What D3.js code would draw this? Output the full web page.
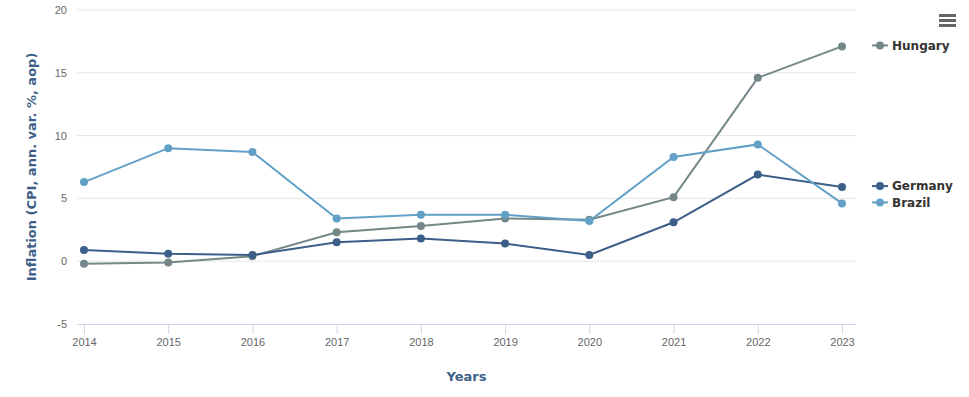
<!DOCTYPE html>
<html>
<head>
<meta charset="utf-8">
<script src="https://cdn.jsdelivr.net/npm/d3@7"></script>
<style>
  body { margin: 0; background: #fff; }
  svg { font-family: "DejaVu Sans", sans-serif; }
</style>
</head>
<body>
<div id="chart"></div>
<script>
// chart data
const years = [2014, 2015, 2016, 2017, 2018, 2019, 2020, 2021, 2022, 2023];
const hungary = [-0.2, -0.1, 0.4, 2.3, 2.8, 3.4, 3.3, 5.1, 14.6, 17.1];
const germany = [0.9, 0.6, 0.5, 1.5, 1.8, 1.4, 0.5, 3.1, 6.9, 5.9];
const brazil = [6.3, 9.0, 8.7, 3.4, 3.7, 3.7, 3.2, 8.3, 9.3, 4.6];
const yTicks = [-5, 0, 5, 10, 15, 20];

const seriesList = [
  { name: "Hungary", values: hungary, color: "#748789" },
  { name: "Germany", values: germany, color: "#3b5f88" },
  { name: "Brazil", values: brazil, color: "#62a0c7" }
];

const svgWidth = 969, svgHeight = 397;
const margin = { top: 10, right: 113, bottom: 73, left: 77 };
const width = svgWidth - margin.left - margin.right;
const height = svgHeight - margin.top - margin.bottom;

const svg = d3.select("#chart").append("svg")
  .attr("width", svgWidth)
  .attr("height", svgHeight);

const chartGroup = svg.append("g")
  .attr("transform", `translate(${margin.left}, ${margin.top})`);

const xScale = d3.scalePoint()
  .domain(years)
  .range([7, width - 14]);

const yScale = d3.scaleLinear()
  .domain([-5, 20])
  .range([height, 0]);

// grid lines
chartGroup.append("g")
  .selectAll("line")
  .data(yTicks.filter(d => d !== -5))
  .join("line")
  .attr("x1", 0).attr("x2", width)
  .attr("y1", d => yScale(d)).attr("y2", d => yScale(d))
  .attr("stroke", "#e6e6e6").attr("stroke-width", 1);

// y axis labels
const yAxis = d3.axisLeft(yScale).tickValues(yTicks).tickSize(0).tickPadding(10)
  .tickFormat(d => String(d));
chartGroup.append("g")
  .call(yAxis)
  .call(g => g.select(".domain").remove())
  .call(g => g.selectAll("text").attr("fill", "#666").style("font-size", "11px"));

// x axis
const xAxis = d3.axisBottom(xScale).tickSize(10).tickPadding(4);
chartGroup.append("g")
  .attr("transform", `translate(0, ${height})`)
  .call(xAxis)
  .call(g => g.select(".domain").attr("d", `M0,0.5H${width}`).attr("stroke", "#ccd6eb"))
  .call(g => g.selectAll(".tick line").attr("stroke", "#ccd6eb"))
  .call(g => g.selectAll("text").attr("fill", "#666").style("font-size", "11px"));

// axis titles
svg.append("text")
  .attr("transform", `translate(36, ${margin.top + height / 2}) rotate(-90)`)
  .attr("text-anchor", "middle")
  .attr("fill", "#3e6089")
  .style("font-size", "13px")
  .style("font-weight", "bold")
  .text("Inflation (CPI, ann. var. %, aop)");

svg.append("text")
  .attr("x", margin.left + width / 2)
  .attr("y", 381)
  .attr("text-anchor", "middle")
  .attr("fill", "#3e6089")
  .style("font-size", "13px")
  .style("font-weight", "bold")
  .text("Years");

// lines and markers
const line = d3.line()
  .x((d, i) => xScale(years[i]))
  .y(d => yScale(d));

seriesList.forEach(s => {
  chartGroup.append("path")
    .datum(s.values)
    .attr("fill", "none")
    .attr("stroke", s.color)
    .attr("stroke-width", 2)
    .attr("d", line);
  chartGroup.append("g")
    .selectAll("circle")
    .data(s.values)
    .join("circle")
    .attr("cx", (d, i) => xScale(years[i]))
    .attr("cy", d => yScale(d))
    .attr("r", 4)
    .attr("fill", s.color);
});

// labels at line ends, pushed apart if they overlap
const labels = seriesList.map(s => ({ s: s, y: yScale(s.values[s.values.length - 1]) }))
  .sort((a, b) => a.y - b.y);
for (let i = 1; i < labels.length; i++) {
  if (labels[i].y - labels[i - 1].y < 16) labels[i].y = labels[i - 1].y + 16;
}
const legend = chartGroup.append("g")
  .attr("transform", `translate(${width + 16}, 0)`);
labels.forEach(l => {
  const item = legend.append("g").attr("transform", `translate(0, ${l.y - 1})`);
  item.append("line")
    .attr("x1", 0).attr("x2", 16)
    .attr("stroke", l.s.color).attr("stroke-width", 2);
  item.append("circle")
    .attr("cx", 8).attr("r", 4).attr("fill", l.s.color);
  item.append("text")
    .attr("x", 20).attr("dy", "0.35em")
    .attr("fill", "#333")
    .style("font-size", "12px")
    .style("font-weight", "bold")
    .text(l.s.name);
});

// menu button
const menu = svg.append("g").attr("transform", "translate(939, 14)");
[0, 5, 10].forEach(dy => {
  menu.append("line")
    .attr("x1", 0).attr("x2", 17)
    .attr("y1", dy + 1.5).attr("y2", dy + 1.5)
    .attr("stroke", "#666").attr("stroke-width", 3);
});
</script>
</body>
</html>
